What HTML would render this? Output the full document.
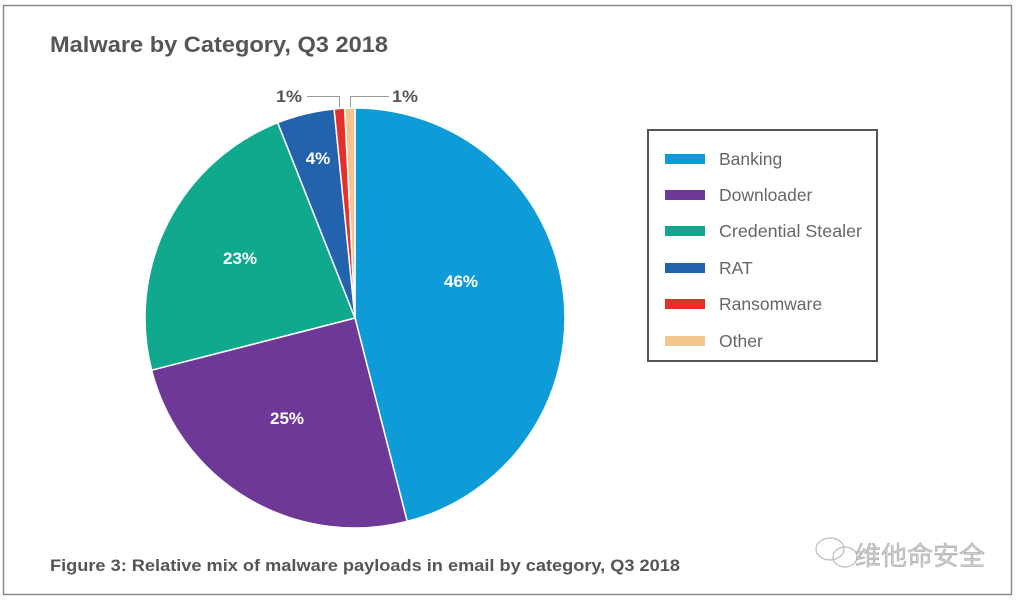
<!DOCTYPE html>
<html><head><meta charset="utf-8"><style>
body{margin:0;background:#fff;width:1016px;height:601px;overflow:hidden;font-family:"Liberation Sans","Noto Sans CJK SC",sans-serif}
</style></head><body>
<svg width="1016" height="601" xmlns="http://www.w3.org/2000/svg" style="position:absolute;left:0;top:0">
<rect x="3.5" y="5.5" width="1008" height="589" fill="#fff" stroke="#888" stroke-width="1.5"/>
<text x="50" y="52" font-size="22" font-weight="bold" fill="#555" textLength="338" lengthAdjust="spacingAndGlyphs">Malware by Category, Q3 2018</text>
<g stroke="#fff" stroke-width="1.5" stroke-linejoin="round">
<path d="M355,318 L355,108 A210,210 0 0 1 407.2,521.4 Z" fill="#0e9cd8"/>
<path d="M355,318 L407.2,521.4 A210,210 0 0 1 151.6,370.2 Z" fill="#6e3996"/>
<path d="M355,318 L151.6,370.2 A210,210 0 0 1 277.7,122.7 Z" fill="#11a98e"/>
<path d="M355,318 L277.7,122.7 A210,210 0 0 1 334.1,109 Z" fill="#2362ad"/>
<path d="M355,318 L334.1,109 A210,210 0 0 1 344.7,108.3 Z" fill="#e4302a"/>
<path d="M355,318 L344.7,108.3 A210,210 0 0 1 355,108 Z" fill="#f2c48e"/>
</g>
<g font-size="17" font-weight="bold" fill="#fff" text-anchor="middle">
<text x="461" y="287">46%</text>
<text x="287" y="424">25%</text>
<text x="240" y="264">23%</text>
<text x="318" y="164">4%</text>
</g>
<g stroke="#999" stroke-width="1" fill="none">
<path d="M307,96.5 H339.5 V107"/>
<path d="M350.5,107 V96.5 H389"/>
</g>
<g font-size="17" font-weight="bold" fill="#555">
<text x="276" y="102" textLength="26" lengthAdjust="spacingAndGlyphs">1%</text>
<text x="392" y="102" textLength="26" lengthAdjust="spacingAndGlyphs">1%</text>
</g>
<rect x="648" y="130" width="229" height="231" fill="#fff" stroke="#555" stroke-width="2"/>
<g font-size="17.5" fill="#666">
<rect x="665" y="154" width="40" height="10" fill="#0e9cd8"/><text x="719" y="165">Banking</text>
<rect x="665" y="190" width="40" height="10" fill="#6e3996"/><text x="719" y="201">Downloader</text>
<rect x="665" y="226" width="40" height="10" fill="#11a98e"/><text x="719" y="237" textLength="143" lengthAdjust="spacingAndGlyphs">Credential Stealer</text>
<rect x="665" y="263" width="40" height="10" fill="#2362ad"/><text x="719" y="274">RAT</text>
<rect x="665" y="299" width="40" height="10" fill="#e4302a"/><text x="719" y="310">Ransomware</text>
<rect x="665" y="336" width="40" height="10" fill="#f2c48e"/><text x="719" y="347">Other</text>
</g>
<text x="50" y="571" font-size="17" font-weight="bold" fill="#555" textLength="630" lengthAdjust="spacingAndGlyphs">Figure 3: Relative mix of malware payloads in email by category, Q3 2018</text>
<g fill="none" stroke="#bbb" stroke-width="1.2">
<ellipse cx="830" cy="549" rx="14" ry="11"/>
<ellipse cx="845" cy="557" rx="12" ry="10"/>
</g>
<text x="855" y="565" font-size="26" fill="#ccc" stroke="#999" stroke-width="0.4">维他命安全</text>
</svg>
</body></html>
